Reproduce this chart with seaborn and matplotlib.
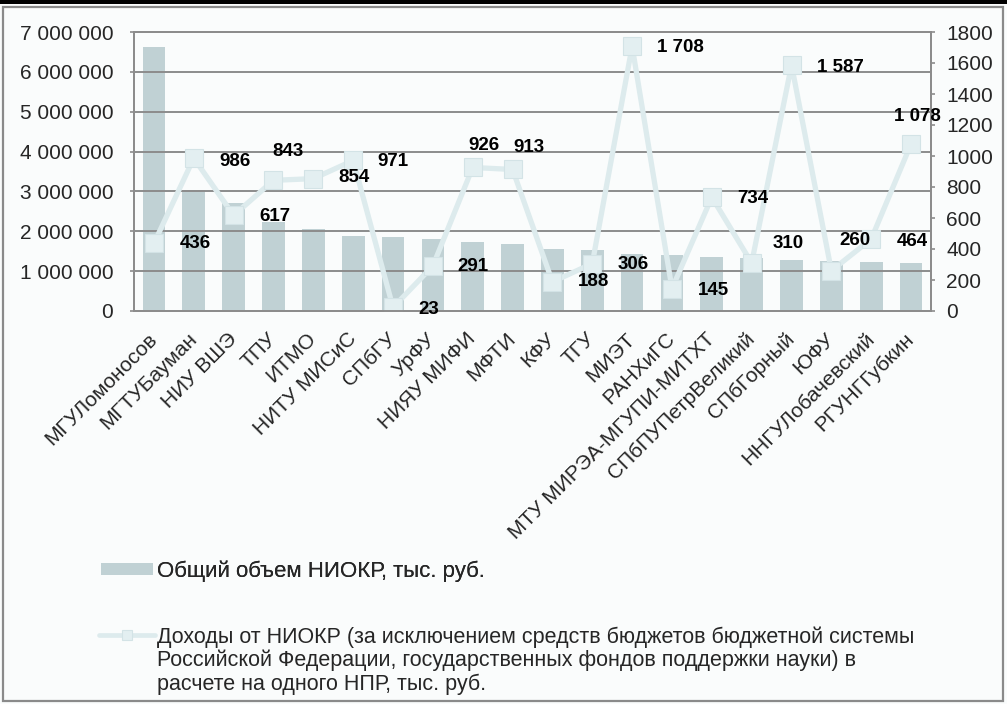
import numpy as np
import pandas as pd
import matplotlib
matplotlib.use("Agg")
import matplotlib.pyplot as plt
import seaborn as sns
from matplotlib.lines import Line2D
from matplotlib.patches import Rectangle
from matplotlib.ticker import FuncFormatter

# ---------------- data ----------------
universities = [
    "МГУЛомоносов", "МГТУБауман", "НИУ ВШЭ", "ТПУ", "ИТМО", "НИТУ МИСиС",
    "СПбГУ", "УрФУ", "НИЯУ МИФИ", "МФТИ", "КФУ", "ТГУ", "МИЭТ", "РАНХиГС",
    "МТУ МИРЭА-МГУПИ-МИТХТ", "СПбПУПетрВеликий", "СПбГорный", "ЮФУ",
    "ННГУЛобачевский", "РГУНГГубкин",
]
volume = [
    6620000, 3040000, 2700000, 2240000, 2060000, 1880000, 1850000, 1800000,
    1720000, 1690000, 1560000, 1520000, 1420000, 1400000, 1360000, 1320000,
    1280000, 1250000, 1220000, 1200000,
]
income = [
    436, 986, 617, 843, 854, 971, 23, 291, 926, 913, 188, 306, 1708, 145,
    734, 310, 1587, 260, 464, 1078,
]
left_ticks = [0, 1000000, 2000000, 3000000, 4000000, 5000000, 6000000, 7000000]
right_ticks = [0, 200, 400, 600, 800, 1000, 1200, 1400, 1600, 1800]

volume_label = "Общий объем НИОКР, тыс. руб."
income_label_lines = [
    "Доходы от НИОКР (за исключением средств бюджетов бюджетной системы",
    "Российской Федерации, государственных фондов поддержки науки) в",
    "расчете на одного НПР, тыс. руб.",
]

# label offsets (pixels: right, down) relative to line markers
label_offsets_px = [
    (41, 0), (41, 3), (41, 1), (15, -29), (41, -1), (40, 1), (36, 2), (40, 1),
    (11, -22), (16, -22), (41, 0), (41, 1), (48, 1), (41, 2), (41, 1),
    (37, -19), (49, 2), (24, -30), (41, 2), (6, -27),
]

# ---------------- style ----------------
sns.set_style("white")
plt.rcParams["font.family"] = ["Liberation Sans", "DejaVu Sans"]

BG = "#FAFCFC"
BAR = "#C0D1D4"
LINE = "#DDEBED"
MARK = "#E3EFF1"
MARK_EDGE = "#D3E3E6"
GRID = "#8C8C8C"

W, H = 1007, 704
fig = plt.figure(figsize=(W / 100, H / 100), dpi=100, facecolor=BG)
ax = fig.add_axes([134 / W, 1 - 311 / H, 797 / W, 279 / H])
ax.set_facecolor(BG)

df = pd.DataFrame({"u": universities, "v": volume, "r": income})

sns.barplot(data=df, x="u", y="v", ax=ax, color=BAR, width=0.57,
            saturation=1, linewidth=0, zorder=1)
ax.set_ylim(0, 7000000)
ax.set_yticks(left_ticks)
ax.yaxis.set_major_formatter(FuncFormatter(lambda v, p: f"{int(v):,}".replace(",", " ")))
ax.grid(axis="y", color=GRID, lw=1.4)
ax.grid(axis="x", visible=False)
ax.set_axisbelow(False)
ax.set_xlabel("")
ax.set_ylabel("")

ax2 = ax.twinx()
sns.pointplot(data=df, x="u", y="r", ax=ax2, color=LINE, markers="s",
              markersize=13.5, linewidth=3.8, errorbar=None)
for ln in ax2.lines:
    ln.set_markerfacecolor(MARK)
    ln.set_markeredgecolor(MARK_EDGE)
    ln.set_markeredgewidth(0.8)
ax2.set_ylim(0, 1800)
ax2.set_yticks(right_ticks)
ax2.set_xlabel("")
ax2.set_ylabel("")
ax2.grid(False)

ax.set_xlim(-0.5, len(universities) - 0.5)
ax.set_xticks(range(len(universities)))
ax.set_xticklabels(universities, rotation=45, ha="right", va="center",
                   rotation_mode="anchor", fontsize=15)
ax.tick_params(axis="x", length=0, pad=18)
ax.tick_params(axis="y", length=3, width=1.2, color=GRID, pad=12, labelsize=15)
ax2.tick_params(axis="y", length=3, width=1.2, color=GRID, pad=8, labelsize=15)

for a in (ax, ax2):
    for s in a.spines.values():
        s.set_color(GRID)
        s.set_linewidth(1.4)

for i, (v, (dx, dy)) in enumerate(zip(income, label_offsets_px)):
    ax2.annotate(f"{v:,}".replace(",", " "), xy=(i, v),
                 xytext=(dx * 0.72, -dy * 0.72), textcoords="offset points",
                 ha="center", va="center", fontsize=13.5, fontweight="bold",
                 color="black", annotation_clip=False, zorder=5)

# ---------------- legends ----------------
leg1 = fig.legend(handles=[Rectangle((0, 0), 1, 1, facecolor=BAR, edgecolor="none")],
                  labels=[volume_label], loc="center left",
                  bbox_to_anchor=(101 / W, 1 - 571 / H), frameon=False,
                  fontsize=16, handlelength=2.35, handleheight=0.45,
                  handletextpad=0.17, borderpad=0, borderaxespad=0)
fig.add_artist(leg1)
h_line = Line2D([], [], color=LINE, lw=3.4, marker="s", markersize=7.5,
                markerfacecolor=MARK, markeredgecolor=MARK_EDGE, markeredgewidth=0.8)
h_none = Line2D([], [], color="none")
leg2 = fig.legend(handles=[h_line, h_none, h_none], labels=income_label_lines,
                  loc="upper left", bbox_to_anchor=(99 / W, 1 - 626 / H),
                  frameon=False, fontsize=15.5, handlelength=2.6,
                  handletextpad=0.1, borderpad=0, borderaxespad=0,
                  labelspacing=0.1)

# ---------------- frame ----------------
fig.add_artist(Rectangle((3 / W, 3 / H), 1000 / W, 694 / H, transform=fig.transFigure,
                         fill=False, edgecolor="#8A8A8A", lw=1.6))
fig.add_artist(Rectangle((0, 1 - 4 / H), 1, 4 / H, transform=fig.transFigure,
                         facecolor="black", edgecolor="none"))

fig.savefig("out.png", dpi=100, facecolor=BG)
